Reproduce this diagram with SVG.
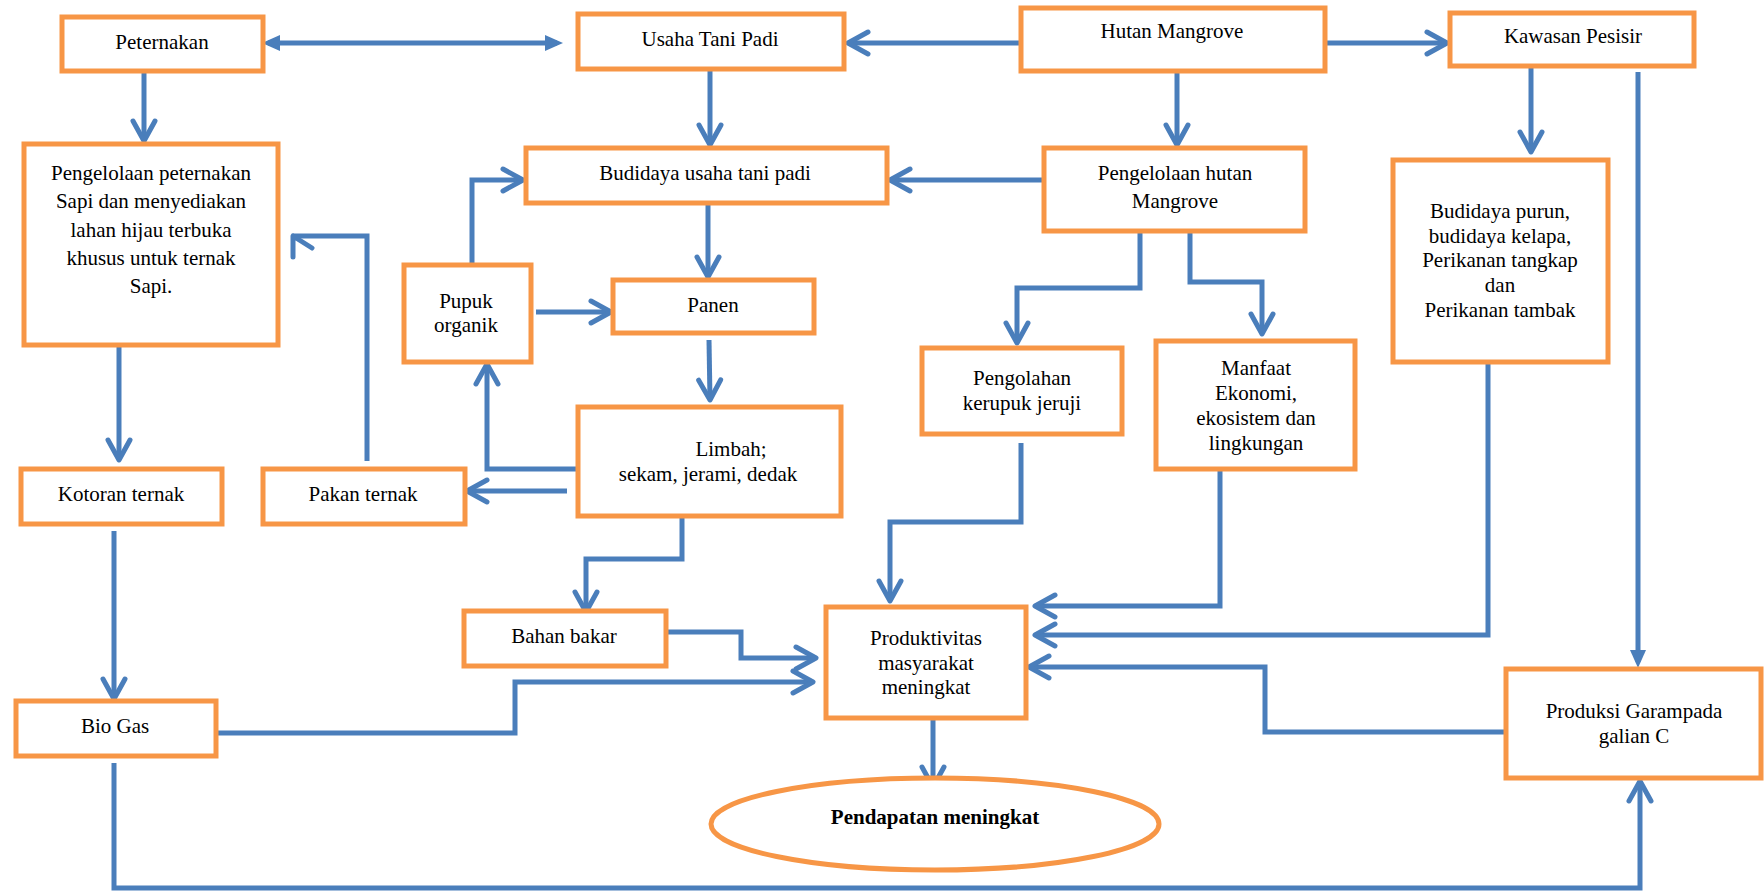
<svg xmlns="http://www.w3.org/2000/svg" width="1764" height="892" viewBox="0 0 1764 892">
<style>
.box{fill:#fff;stroke:#F79646;stroke-width:5}
.ln{fill:none;stroke:#4A7EBB;stroke-width:5}
.hd{fill:none;stroke:#4A7EBB;stroke-width:5;stroke-linecap:round;stroke-linejoin:round}
.t{font-family:"Liberation Serif","Times New Roman",serif;font-size:21px;fill:#000;text-anchor:middle}
.b{font-weight:bold}
</style>
<defs>
<marker id="ch" markerUnits="userSpaceOnUse" viewBox="-26 -16 32 32" refX="0" refY="0" markerWidth="32" markerHeight="32" orient="auto">
<path d="M-20,-11 L0,0 L-20,11" fill="none" stroke="#4A7EBB" stroke-width="5" stroke-linecap="round" stroke-linejoin="round"/>
</marker>
<marker id="tri" markerUnits="userSpaceOnUse" viewBox="-16 -12 26 24" refX="0" refY="0" markerWidth="26" markerHeight="24" orient="auto-start-reverse">
<path d="M-12,-8 L6,0 L-12,8 Z" fill="#4A7EBB"/>
</marker>
</defs>
<rect width="1764" height="892" fill="#fff"/>
<g id="connectors">
<path class="ln" d="M268,43 H557" marker-start="url(#tri)" marker-end="url(#tri)"/>
<path class="ln" d="M1021,43 H848" marker-end="url(#ch)"/>
<path class="ln" d="M1325,43 H1447" marker-end="url(#ch)"/>
<path class="ln" d="M144,71 V141" marker-end="url(#ch)"/>
<path class="ln" d="M710,69 V145" marker-end="url(#ch)"/>
<path class="ln" d="M1177,65 V145" marker-end="url(#ch)"/>
<path class="ln" d="M1531,67 V152" marker-end="url(#ch)"/>
<path class="ln" d="M1043,180 H890" marker-end="url(#ch)"/>
<path class="ln" d="M708,204 V277" marker-end="url(#ch)"/>
<path class="ln" d="M421,266 H472 V180 H523" marker-end="url(#ch)"/>
<path class="ln" d="M536,312 H611" marker-end="url(#ch)"/>
<path class="ln" d="M709,340 L710,400" marker-end="url(#ch)"/>
<path class="ln" d="M580,469 H487 V364" marker-end="url(#ch)"/>
<path class="ln" d="M567,491 H467" marker-end="url(#ch)"/>
<path class="ln" d="M367,461 V236 H293"/>
<polyline class="hd" points="312,248 293,236 293,257"/>
<path class="ln" d="M119,345 V460" marker-end="url(#ch)"/>
<path class="ln" d="M114,531 V699" marker-end="url(#ch)"/>
<path class="ln" d="M682,504 V559 H586 V612" marker-end="url(#ch)"/>
<path class="ln" d="M666,632 H741 V658 H816" marker-end="url(#ch)"/>
<path class="ln" d="M216,733 H515 V682 H813" marker-end="url(#ch)"/>
<path class="ln" d="M114,763 V888 H1640 V781" marker-end="url(#ch)"/>
<path class="ln" d="M1140,232 V288 H1017 V343" marker-end="url(#ch)"/>
<path class="ln" d="M1190,230 V282 H1262 V334" marker-end="url(#ch)"/>
<path class="ln" d="M1021,443 V522 H890 V601" marker-end="url(#ch)"/>
<path class="ln" d="M1220,470 V606 H1035" marker-end="url(#ch)"/>
<path class="ln" d="M1488,362 V635 H1035" marker-end="url(#ch)"/>
<path class="ln" d="M1506,732 H1265 V667 H1029" marker-end="url(#ch)"/>
<path class="ln" d="M1638,72 V662" marker-end="url(#tri)"/>
<path class="ln" d="M933,719 V787" marker-end="url(#ch)"/>
</g>
<g id="peternakan"><rect class="box" x="62" y="17" width="201" height="54"/><text class="t" x="162" y="49">Peternakan</text></g>
<g id="usaha-tani-padi"><rect class="box" x="578" y="14" width="266" height="55"/><text class="t" x="710" y="46">Usaha Tani Padi</text></g>
<g id="hutan-mangrove"><rect class="box" x="1021" y="8" width="304" height="63"/><text class="t" x="1172" y="38">Hutan Mangrove</text></g>
<g id="kawasan-pesisir"><rect class="box" x="1450" y="13" width="244" height="53"/><text class="t" x="1573" y="43">Kawasan Pesisir</text></g>
<g id="pengelolaan-peternakan"><rect class="box" x="24" y="144" width="254" height="201"/>
<text class="t" x="151" y="180">Pengelolaan peternakan</text>
<text class="t" x="151" y="208">Sapi dan menyediakan</text>
<text class="t" x="151" y="237">lahan hijau terbuka</text>
<text class="t" x="151" y="265">khusus untuk ternak</text>
<text class="t" x="151" y="293">Sapi.</text></g>
<g id="budidaya-usaha-tani-padi"><rect class="box" x="526" y="148" width="361" height="55"/><text class="t" x="705" y="180">Budidaya usaha tani padi</text></g>
<g id="pengelolaan-hutan"><rect class="box" x="1044" y="148" width="261" height="83"/>
<text class="t" x="1175" y="180">Pengelolaan hutan</text>
<text class="t" x="1175" y="208">Mangrove</text></g>
<g id="budidaya-purun"><rect class="box" x="1393" y="160" width="215" height="202"/>
<text class="t" x="1500" y="218">Budidaya purun,</text>
<text class="t" x="1500" y="243">budidaya kelapa,</text>
<text class="t" x="1500" y="267">Perikanan tangkap</text>
<text class="t" x="1500" y="292">dan</text>
<text class="t" x="1500" y="317">Perikanan tambak</text></g>
<g id="pupuk-organik"><rect class="box" x="404" y="265" width="127" height="97"/>
<text class="t" x="466" y="308">Pupuk</text>
<text class="t" x="466" y="332">organik</text></g>
<g id="panen"><rect class="box" x="613" y="280" width="201" height="53"/><text class="t" x="713" y="312">Panen</text></g>
<g id="pengolahan-kerupuk"><rect class="box" x="922" y="348" width="200" height="86"/>
<text class="t" x="1022" y="385">Pengolahan</text>
<text class="t" x="1022" y="410">kerupuk jeruji</text></g>
<g id="manfaat"><rect class="box" x="1156" y="341" width="199" height="128"/>
<text class="t" x="1256" y="375">Manfaat</text>
<text class="t" x="1256" y="400">Ekonomi,</text>
<text class="t" x="1256" y="425">ekosistem dan</text>
<text class="t" x="1256" y="450">lingkungan</text></g>
<g id="kotoran-ternak"><rect class="box" x="21" y="469" width="201" height="55"/><text class="t" x="121" y="501">Kotoran ternak</text></g>
<g id="pakan-ternak"><rect class="box" x="263" y="469" width="202" height="55"/><text class="t" x="363" y="501">Pakan ternak</text></g>
<g id="limbah"><rect class="box" x="578" y="407" width="263" height="109"/>
<text class="t" x="731" y="456">Limbah;</text>
<text class="t" x="708" y="481">sekam, jerami, dedak</text></g>
<g id="bahan-bakar"><rect class="box" x="464" y="611" width="202" height="55"/><text class="t" x="564" y="643">Bahan bakar</text></g>
<g id="produktivitas"><rect class="box" x="826" y="607" width="200" height="111"/>
<text class="t" x="926" y="645">Produktivitas</text>
<text class="t" x="926" y="670">masyarakat</text>
<text class="t" x="926" y="694">meningkat</text></g>
<g id="bio-gas"><rect class="box" x="16" y="701" width="200" height="55"/><text class="t" x="115" y="733">Bio Gas</text></g>
<g id="produksi-garam"><rect class="box" x="1506" y="669" width="255" height="109"/>
<text class="t" x="1634" y="718">Produksi Garampada</text>
<text class="t" x="1634" y="743">galian C</text></g>
<g id="pendapatan"><ellipse class="box" cx="935" cy="824" rx="224" ry="46"/><text class="t b" x="935" y="824">Pendapatan meningkat</text></g>
</svg>
